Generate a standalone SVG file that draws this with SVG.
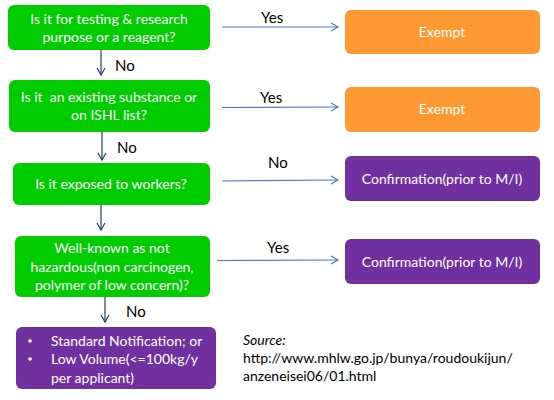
<svg xmlns="http://www.w3.org/2000/svg" width="554" height="400" viewBox="0 0 554 400">
<defs>
<marker id="ah" markerWidth="10" markerHeight="10" refX="8" refY="5" orient="auto" markerUnits="userSpaceOnUse">
<path d="M1,1 L8,5 L1,9" fill="none" stroke="#4A7EBB" stroke-width="1.2"/>
</marker>
<marker id="av" markerWidth="10" markerHeight="10" refX="8" refY="5" orient="auto" markerUnits="userSpaceOnUse">
<path d="M1,1 L8,5 L1,9" fill="none" stroke="#1F3E7A" stroke-width="1.2"/>
</marker>
<style>
text{font-family:Lato,"Liberation Sans",sans-serif;font-size:14px}
.g{fill:#00CC00}
.o{fill:#FF9933}
.p{fill:#7030A0}
.w{fill:#ffffff;text-anchor:middle}
.b{fill:#000000}
.l{fill:#000000;font-size:15px}
.h{stroke:#4A7EBB;stroke-width:1.2;fill:none;marker-end:url(#ah)}
.v{stroke:#1F3E7A;stroke-width:1.2;fill:none;marker-end:url(#av)}
</style>
</defs>
<rect width="554" height="400" fill="#ffffff"/>
<g id="q1"><rect class="g" x="8" y="5" width="202" height="45" rx="6"/>
<text class="w" x="109" y="24">Is it for testing &amp; research</text>
<text class="w" x="109" y="42">purpose or a reagent?</text></g>
<g id="q2"><rect class="g" x="9" y="80" width="201" height="52" rx="6"/>
<text class="w" x="109" y="102" xml:space="preserve">Is it  an existing substance or</text>
<text class="w" x="109" y="120">on ISHL list?</text></g>
<g id="q3"><rect class="g" x="13" y="163" width="197" height="42" rx="6"/>
<text class="w" x="111" y="189">Is it exposed to workers?</text></g>
<g id="q4"><rect class="g" x="15" y="236" width="195" height="61" rx="6"/>
<text class="w" x="112" y="253">Well-known as not</text>
<text class="w" x="112" y="272">hazardous(non carcinogen,</text>
<text class="w" x="112" y="290">polymer of low concern)?</text></g>
<g id="r5"><rect class="p" x="16" y="327" width="200" height="62" rx="6"/>
<circle cx="30" cy="341" r="1.8" fill="#fff"/>
<text fill="#fff" x="51" y="346">Standard Notification; or</text>
<circle cx="30" cy="359" r="1.8" fill="#fff"/>
<text fill="#fff" x="51" y="364">Low Volume(&lt;=100kg/y</text>
<text fill="#fff" x="51" y="383">per applicant)</text></g>
<g id="r1"><rect class="o" x="345" y="10" width="195" height="44" rx="6"/>
<text class="w" x="442" y="37">Exempt</text></g>
<g id="r2"><rect class="o" x="345" y="87" width="195" height="45" rx="6"/>
<text class="w" x="442" y="114">Exempt</text></g>
<g id="r3"><rect class="p" x="345" y="156" width="195" height="45" rx="6"/>
<text class="w" x="442" y="184">Confirmation(prior to M/I)</text></g>
<g id="r4"><rect class="p" x="345" y="239" width="195" height="45" rx="6"/>
<text class="w" x="442" y="267">Confirmation(prior to M/I)</text></g>
<g id="connectors">
<line class="h" x1="222" y1="27" x2="338" y2="27"/>
<line class="h" x1="222" y1="107.5" x2="338" y2="107"/>
<line class="h" x1="222" y1="181" x2="338" y2="180"/>
<line class="h" x1="217" y1="260.5" x2="338" y2="260"/>
<line class="v" x1="101" y1="50" x2="101" y2="75"/>
<line class="v" x1="102" y1="132" x2="102" y2="160"/>
<line class="v" x1="101" y1="205" x2="101" y2="230"/>
<line class="v" x1="105" y1="297" x2="105" y2="322"/>
<text class="l" x="261" y="23">Yes</text>
<text class="l" x="260" y="103">Yes</text>
<text class="l" x="268" y="168">No</text>
<text class="l" x="267" y="253">Yes</text>
<text class="l" x="115" y="71">No</text>
<text class="l" x="117" y="153">No</text>
<text class="l" x="126" y="317">No</text>
</g>
<g id="source">
<text class="b" x="243" y="345" font-style="italic">Source:</text>
<text class="b" x="243" y="363">http://www.mhlw.go.jp/bunya/roudoukijun/</text>
<text class="b" x="243" y="381">anzeneisei06/01.html</text>
</g>
</svg>
